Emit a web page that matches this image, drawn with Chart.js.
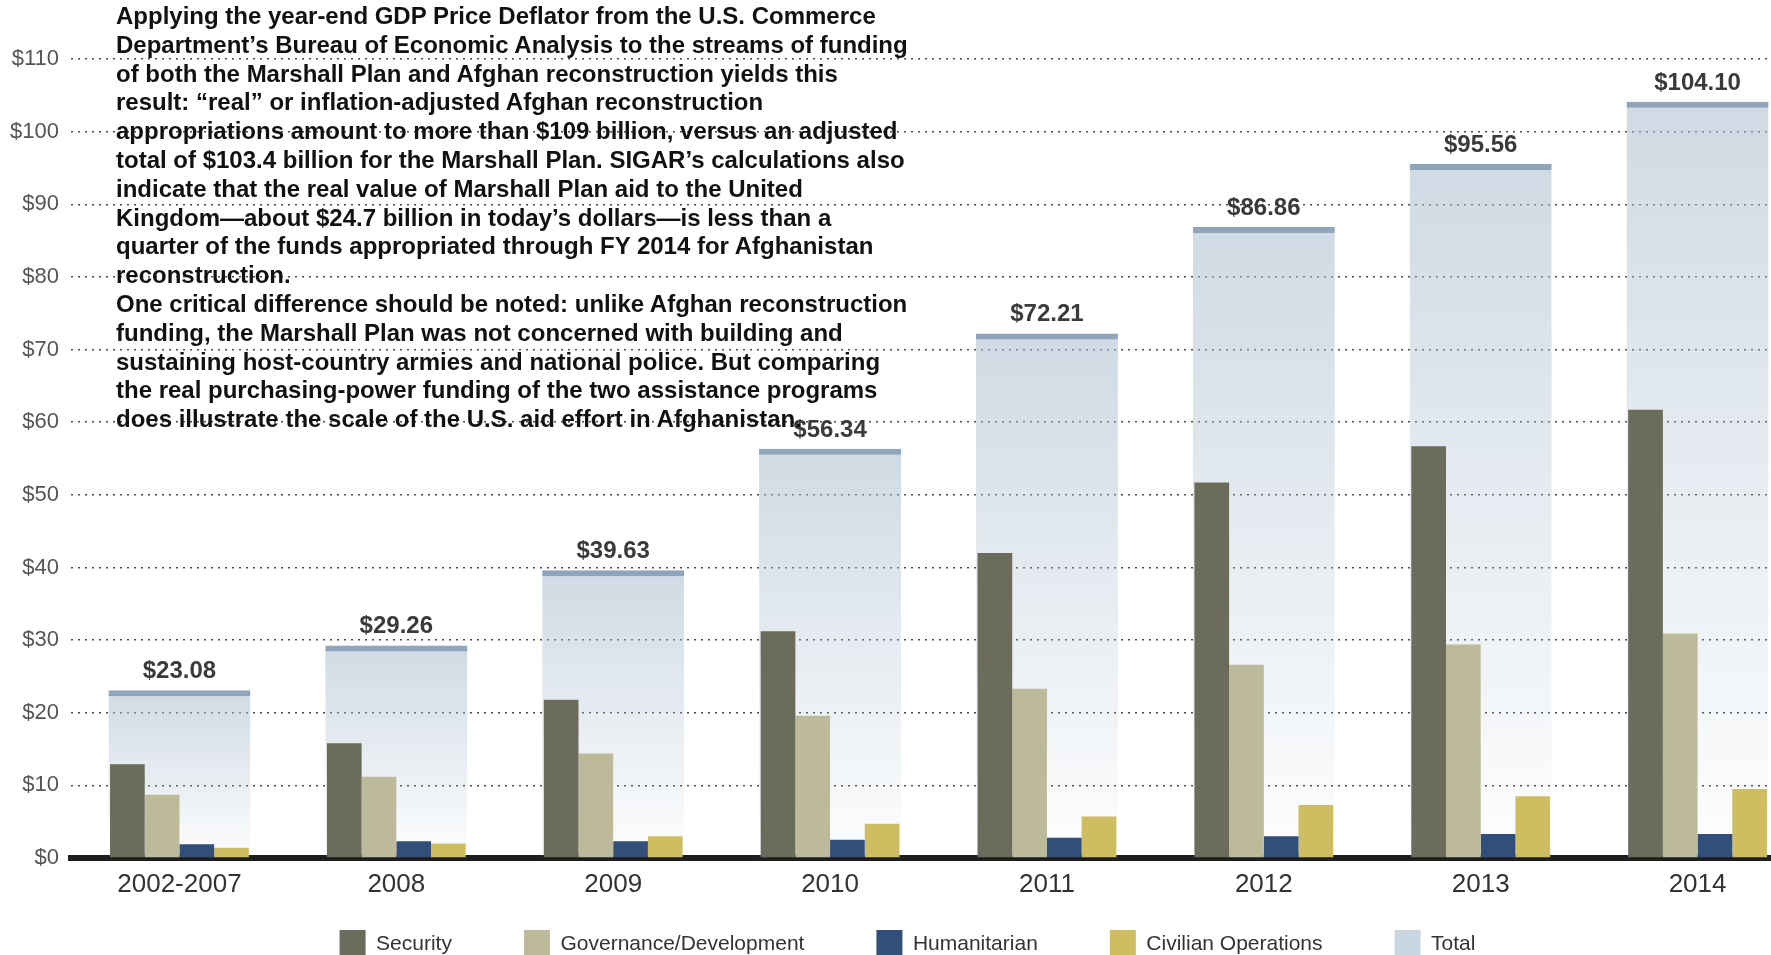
<!DOCTYPE html>
<html lang="en">
<head>
<meta charset="UTF-8" />
<title>Afghan Reconstruction Funding</title>
<script src="https://cdn.jsdelivr.net/npm/chart.js"></script>
<style>
    html, body { margin: 0; padding: 0; background: #fff; overflow: hidden; }
    #wrap { position: relative; width: 1806px; height: 969px; }
    #note {
        position: absolute; left: 116px; top: 2px; z-index: 2;
        font: bold 24px/28.8px "Liberation Sans", Arial, sans-serif;
        color: #111; white-space: nowrap;
    }
</style>
</head>
<body>
<div id="wrap">
    <canvas id="fundingChart" width="1806" height="969"></canvas>
    <div id="note">
        Applying the year-end GDP Price Deflator from the U.S. Commerce<br>
        Department’s Bureau of Economic Analysis to the streams of funding<br>
        of both the Marshall Plan and Afghan reconstruction yields this<br>
        result: “real” or inflation-adjusted Afghan reconstruction<br>
        appropriations amount to more than $109 billion, versus an adjusted<br>
        total of $103.4 billion for the Marshall Plan. SIGAR’s calculations also<br>
        indicate that the real value of Marshall Plan aid to the United<br>
        Kingdom—about $24.7 billion in today’s dollars—is less than a<br>
        quarter of the funds appropriated through FY 2014 for Afghanistan<br>
        reconstruction.<br>
        One critical difference should be noted: unlike Afghan reconstruction<br>
        funding, the Marshall Plan was not concerned with building and<br>
        sustaining host-country armies and national police. But comparing<br>
        the real purchasing-power funding of the two assistance programs<br>
        does illustrate the scale of the U.S. aid effort in Afghanistan.
    </div>
</div>
<script>
    // values in $ billions
    const years = ['2002-2007', '2008', '2009', '2010', '2011', '2012', '2013', '2014'];
    const security     = [12.9, 15.8, 21.8, 31.2, 42.0, 51.7, 56.7, 61.7];
    const governance   = [8.7, 11.2, 14.4, 19.6, 23.3, 26.6, 29.4, 30.9];
    const humanitarian = [1.9, 2.3, 2.3, 2.5, 2.8, 3.0, 3.3, 3.3];
    const civilian     = [1.4, 2.0, 3.0, 4.7, 5.7, 7.3, 8.5, 9.5];
    const totals       = [23.08, 29.26, 39.63, 56.34, 72.21, 86.86, 95.56, 104.10];

    const FONT = '"Liberation Sans", Arial, sans-serif';
    const colors = {
        security: '#6c6c5c',
        governance: '#bdb99b',
        humanitarian: '#314f79',
        civilian: '#cfbd62',
        total: '#c9d6e0',
        totalTop: '#8fa5ba'
    };

    function totalFill(ctx) {
        const chart = ctx.chart;
        if (!chart.chartArea || ctx.type !== 'data') return colors.total;
        const y = chart.scales.y;
        const top = y.getPixelForValue(ctx.parsed.y);
        const bottom = y.getPixelForValue(0);
        if (!isFinite(top) || !isFinite(bottom)) return colors.total;
        const g = chart.ctx.createLinearGradient(0, top, 0, bottom);
        g.addColorStop(0, 'rgba(168,188,206,0.55)');
        g.addColorStop(1, 'rgba(168,188,206,0.02)');
        return g;
    }

    const totalLabels = {
        id: 'totalLabels',
        afterDatasetsDraw(chart) {
            const meta = chart.getDatasetMeta(4);
            const c = chart.ctx;
            c.save();
            c.font = 'bold 24px ' + FONT;
            c.fillStyle = '#3a3a3a';
            c.textAlign = 'center';
            c.textBaseline = 'alphabetic';
            meta.data.forEach((bar, i) => {
                c.fillText('$' + totals[i].toFixed(2), bar.x, bar.y - 12);
            });
            c.restore();
        }
    };

    // x axis takes no layout height (legend sits right under the axis line),
    // but its label area still needs room so the tick labels aren't clipped
    const xLabelRoom = {
        id: 'xLabelRoom',
        afterLayout(chart) {
            const x = chart.scales.x;
            x.bottom = x.top + 60;
        }
    };

    const ctx = document.getElementById('fundingChart').getContext('2d');
    new Chart(ctx, {
        type: 'bar',
        data: {
            labels: years,
            datasets: [
                { label: 'Security', data: security, backgroundColor: colors.security },
                { label: 'Governance/Development', data: governance, backgroundColor: colors.governance },
                { label: 'Humanitarian', data: humanitarian, backgroundColor: colors.humanitarian },
                { label: 'Civilian Operations', data: civilian, backgroundColor: colors.civilian },
                {
                    label: 'Total', data: totals, grouped: false,
                    categoryPercentage: 0.655, barPercentage: 1,
                    backgroundColor: totalFill,
                    borderColor: colors.totalTop,
                    borderWidth: { top: 6, left: 0, right: 0, bottom: 0 },
                    borderSkipped: 'start'
                }
            ]
        },
        options: {
            responsive: false,
            animation: false,
            categoryPercentage: 0.64,
            barPercentage: 1,
            layout: { padding: { left: 9, right: 0, top: 59, bottom: 0 } },
            scales: {
                x: {
                    offset: true,
                    grid: { display: false },
                    border: { color: '#1e1e1e', width: 6 },
                    ticks: { color: '#333', font: { family: FONT, size: 26 }, padding: 3 },
                    afterFit(scale) { scale.height = 0; }
                },
                y: {
                    min: 0, max: 110,
                    grid: { color: '#4a4a4a', lineWidth: 1.5, drawTicks: false },
                    border: { display: false, dash: [2, 5] },
                    ticks: {
                        stepSize: 10, padding: 12, color: '#555',
                        font: { family: FONT, size: 22 },
                        callback: v => '$' + v
                    },
                    afterFit(scale) { scale.width = 62; }
                }
            },
            plugins: {
                tooltip: { enabled: false },
                legend: {
                    position: 'bottom',
                    labels: {
                        boxWidth: 26, boxHeight: 29, padding: 72,
                        color: '#333', font: { family: FONT, size: 21 },
                        generateLabels(chart) {
                            const fills = [colors.security, colors.governance, colors.humanitarian, colors.civilian, colors.total];
                            return chart.data.datasets.map((ds, i) => ({
                                text: ds.label, fillStyle: fills[i], strokeStyle: fills[i],
                                lineWidth: 0, hidden: false, datasetIndex: i, fontColor: '#333'
                            }));
                        }
                    }
                }
            }
        },
        plugins: [totalLabels, xLabelRoom]
    });
</script>
</body>
</html>
